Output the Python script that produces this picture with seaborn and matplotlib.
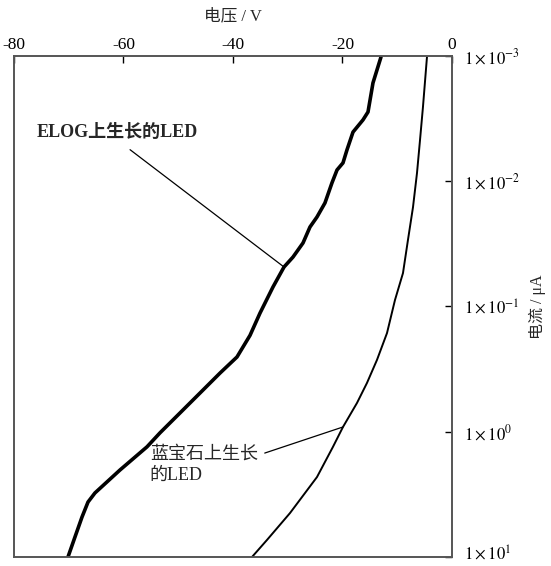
import numpy as np
import pandas as pd
import matplotlib
matplotlib.use('Agg')
import matplotlib.pyplot as plt
import matplotlib.transforms as mtransforms
from matplotlib.ticker import FixedLocator, NullLocator
import seaborn as sns

# Reverse-bias I-V curves (voltage in V, current in uA)
elog_v = [-12.97, -14.43, -15.34, -16.26, -18.08, -19.18, -19.91, -21.0, -21.92, -23.2,
          -24.66, -25.94, -27.21, -29.04, -30.68, -32.69, -35.07, -36.89, -39.27, -42.37,
          -46.03, -49.68, -53.33, -55.71, -60.64, -65.21, -66.48, -67.58, -68.86, -70.14]
elog_i = [0.00102, 0.00164, 0.0028, 0.00324, 0.00405, 0.00562, 0.00714, 0.00813, 0.0103, 0.0149,
          0.0193, 0.0232, 0.0311, 0.0403, 0.0484, 0.0698, 0.113, 0.17, 0.253, 0.34,
          0.491, 0.708, 1.02, 1.32, 2.02, 3.08, 3.64, 4.8, 6.92, 10.0]

sapph_v = [-4.57, -5.3, -5.84, -6.39, -7.12, -8.04, -8.95, -10.41, -11.87, -13.7,
           -15.53, -17.35, -19.91, -21.74, -24.66, -29.59, -33.79, -36.53]
sapph_i = [0.00102, 0.00255, 0.00469, 0.00859, 0.0161, 0.0294, 0.0541, 0.0887, 0.163, 0.267,
           0.408, 0.589, 0.916, 1.32, 2.3, 4.46, 7.31, 10.0]

x_ticks = [-80, -60, -40, -20, 0]
y_ticks = [1e-3, 1e-2, 1e-1, 1e0, 1e1]
y_labels = [r'$1\times10^{-3}$', r'$1\times10^{-2}$', r'$1\times10^{-1}$',
            r'$1\times10^{0}$', r'$1\times10^{1}$']

elog_label = 'ELOG上生长的LED'
sapph_label = '蓝宝石上生长\n的LED'

sns.set_style('white')
plt.rcParams['font.family'] = ['Liberation Serif', 'Noto Sans CJK SC', 'DejaVu Sans']
plt.rcParams['mathtext.fontset'] = 'stix'
plt.rcParams['axes.unicode_minus'] = False

df = pd.concat([
    pd.DataFrame({'v': elog_v, 'i': elog_i, 'led': 'elog'}),
    pd.DataFrame({'v': sapph_v, 'i': sapph_i, 'led': 'sapphire'}),
])

fig = plt.figure(figsize=(5.51, 5.66), dpi=100)
ax = fig.add_axes([0.0254, 0.0159, 0.7949, 0.8852])

sns.lineplot(data=df[df.led == 'elog'], x='v', y='i', sort=False, estimator=None,
             color='black', lw=2.6, solid_joinstyle='round', ax=ax)
sns.lineplot(data=df[df.led == 'sapphire'], x='v', y='i', sort=False, estimator=None,
             color='black', lw=1.4, solid_joinstyle='round', ax=ax)

ax.set_yscale('log')
ax.set_xlim(-80, 0)
ax.set_ylim(1e1, 1e-3)

ax.xaxis.set_major_locator(FixedLocator(x_ticks))
ax.set_xticklabels([str(t) for t in x_ticks])
ax.yaxis.set_major_locator(FixedLocator(y_ticks))
ax.yaxis.set_minor_locator(NullLocator())
ax.set_yticklabels(y_labels)

ax.xaxis.tick_top()
ax.yaxis.tick_right()
ax.tick_params(axis='x', direction='in', length=5, width=1, pad=2, labelsize=12.5, colors='black')
ax.tick_params(axis='y', direction='in', length=5, width=1, pad=9, labelsize=12, colors='black')
for side in ax.spines:
    ax.spines[side].set_visible(True)
    ax.spines[side].set_color('#555555')
    ax.spines[side].set_linewidth(1.4)

# keep the bottom tick label inside the canvas
bottom_lbl = ax.get_yticklabels()[-1]
bottom_lbl.set_transform(bottom_lbl.get_transform() +
                         mtransforms.ScaledTranslation(0, 3 / 72, fig.dpi_scale_trans))

ax.set_xlabel('电压 / V', fontsize=12)
ax.xaxis.set_label_position('top')
ax.xaxis.labelpad = 12
ax.set_ylabel('电流 / μA', fontsize=11.5, rotation=90)
ax.yaxis.set_label_position('right')
ax.yaxis.labelpad = 6

# call-out labels with leader lines
ax.text(-75.8, 0.0041, elog_label, fontsize=13, fontweight='bold', ha='left', va='center')
ax.plot([-58.8, elog_v[14]], [0.0056, elog_i[14]], color='black', lw=0.9)

ax.text(-55.2, 1.84, sapph_label, fontsize=13, ha='left', va='center', linespacing=1.35)
ax.plot([-34.2, sapph_v[12]], [1.48, sapph_i[12]], color='black', lw=0.9)

fig.savefig('out.png', dpi=100)
